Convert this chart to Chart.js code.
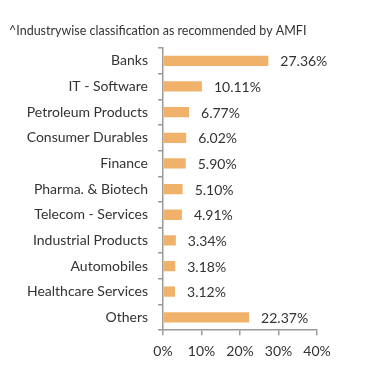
<!DOCTYPE html>
<html><head><meta charset="utf-8">
<script src="https://cdn.jsdelivr.net/npm/chart.js@4/dist/chart.umd.min.js"></script>
<style>html,body{margin:0;padding:0;background:#fff}#w{width:391px;height:383px}</style>
</head><body><div id="w"><canvas id="c"></canvas></div>
<script>
const titleText = "^Industrywise classification as recommended by AMFI";
const categories = ["Banks","IT - Software","Petroleum Products","Consumer Durables","Finance","Pharma. & Biotech","Telecom - Services","Industrial Products","Automobiles","Healthcare Services","Others"];
const values = [27.36,10.11,6.77,6.02,5.90,5.10,4.91,3.34,3.18,3.12,22.37];
const xTicks = [0,10,20,30,40];

const FONT = "Lato, 'Open Sans', sans-serif";
const TXT = "#333333";
const AX = "#9a9a9a";

const valueLabels = {
  id: 'valueLabels',
  afterDatasetsDraw(chart) {
    const ctx = chart.ctx;
    const meta = chart.getDatasetMeta(0);
    ctx.save();
    ctx.font = "14px " + FONT;
    ctx.fillStyle = TXT;
    ctx.textAlign = 'left';
    ctx.textBaseline = 'middle';
    meta.data.forEach((bar, i) => {
      ctx.fillText(values[i].toFixed(2) + '%', bar.x + 12, bar.y + 1);
    });
    ctx.restore();
  }
};

new Chart(document.getElementById('c'), {
  type: 'bar',
  data: { labels: categories, datasets: [{ data: values, backgroundColor: '#F0B26B', borderWidth: 0, barPercentage: 0.4, categoryPercentage: 1 }] },
  options: {
    indexAxis: 'y',
    responsive: true, maintainAspectRatio: false, animation: false,
    layout: { padding: { left: 9, right: 74, top: 0, bottom: 15 } },
    plugins: {
      legend: { display: false }, tooltip: { enabled: false },
      title: { display: true, text: titleText, align: 'start', color: TXT, font: { family: FONT, size: 12.5, weight: 'normal' }, padding: { top: 23, bottom: 10 } }
    },
    scales: {
      x: {
        min: 0, max: 40, afterBuildTicks: s => { s.ticks = xTicks.map(v => ({ value: v })); },
        grid: { display: true, drawOnChartArea: false, drawTicks: true, tickLength: 5, color: AX, lineWidth: 1.5 },
        border: { display: true, color: AX, width: 1.5 },
        ticks: { color: TXT, font: { family: FONT, size: 14 }, padding: 8, callback: v => v + '%' }
      },
      y: {
        afterFit: s => { s.width = 154; },
        grid: { display: true, drawOnChartArea: false, drawTicks: true, tickLength: 5, offset: true, color: AX, lineWidth: 1.5 },
        border: { display: true, color: AX, width: 1.5 },
        ticks: { color: TXT, font: { family: FONT, size: 14 }, padding: 10 }
      }
    }
  },
  plugins: [valueLabels]
});
</script></body></html>
